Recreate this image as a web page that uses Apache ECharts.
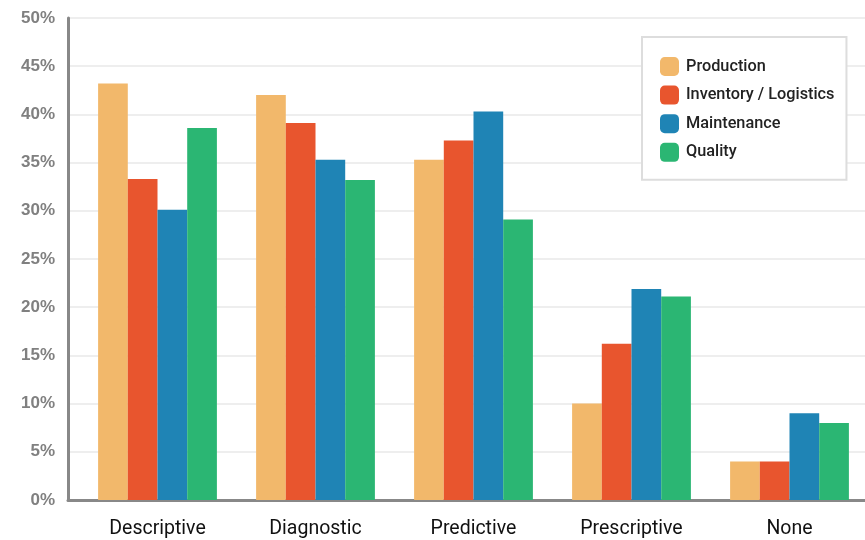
<!DOCTYPE html>
<html>
<head>
<meta charset="utf-8">
<script src="https://cdn.jsdelivr.net/npm/echarts@6/dist/echarts.min.js"></script>
<style>
  html, body { margin: 0; padding: 0; background: #fff; }
  #chart { width: 865px; height: 540px; }
</style>
</head>
<body>
<div id="chart"></div>
<script>
const categories = ['Descriptive', 'Diagnostic', 'Predictive', 'Prescriptive', 'None']
const production = [43.2, 42.0, 35.3, 10.0, 4.0]
const inventory = [33.3, 39.1, 37.3, 16.2, 4.0]
const maintenance = [30.1, 35.3, 40.3, 21.9, 9.0]
const quality = [38.6, 33.2, 29.1, 21.1, 8.0]

const seriesDefs = [
  { name: 'Production', data: production, color: '#F2B86B' },
  { name: 'Inventory / Logistics', data: inventory, color: '#E8552E' },
  { name: 'Maintenance', data: maintenance, color: '#1F84B5' },
  { name: 'Quality', data: quality, color: '#2BB673' }
]

const chart = echarts.init(document.getElementById('chart'))
chart.setOption({
  animation: false,
  backgroundColor: '#fff',
  textStyle: { fontFamily: 'Roboto' },
  legend: {
    orient: 'vertical',
    left: 642,
    top: 37,
    padding: [20, 12, 18, 18],
    itemWidth: 19,
    itemHeight: 19,
    itemGap: 9.6,
    borderColor: '#ddd',
    borderWidth: 2,
    backgroundColor: '#fff',
    textStyle: { fontSize: 16.3, color: '#222', fontWeight: 500, padding: [0, 0, 0, 2] },
    data: seriesDefs.map(s => ({ name: s.name, icon: 'roundRect' }))
  },
  grid: [
    // axis frame and gridlines
    { left: 68, right: 0, top: 18, bottom: 40 },
    // bars: category centres sit on the grid edges (boundaryGap false)
    { left: 157.5, right: 75.5, top: 18, bottom: 40 }
  ],
  xAxis: [
    {
      gridIndex: 0,
      type: 'value',
      min: 0,
      max: 1,
      axisLine: { show: true, lineStyle: { color: '#888', width: 3 } },
      axisTick: { show: false },
      axisLabel: { show: false },
      splitLine: { show: false }
    },
    {
      gridIndex: 1,
      type: 'category',
      boundaryGap: false,
      data: categories,
      axisLine: { show: false },
      axisTick: { show: false },
      axisLabel: { fontSize: 19.5, color: '#111', margin: 19 }
    }
  ],
  yAxis: [
    {
      gridIndex: 0,
      type: 'value',
      min: 0,
      max: 50,
      interval: 5,
      axisLine: { show: true, lineStyle: { color: '#888', width: 3 } },
      axisTick: { show: false },
      axisLabel: {
        formatter: '{value}%',
        fontSize: 17,
        fontWeight: 'bold',
        color: '#808080',
        margin: 13,
        fontFamily: 'Liberation Sans'
      },
      splitLine: { lineStyle: { color: '#eee', width: 2 } }
    },
    {
      gridIndex: 1,
      type: 'value',
      min: 0,
      max: 50,
      show: false
    }
  ],
  series: seriesDefs.map(s => ({
    name: s.name,
    type: 'bar',
    xAxisIndex: 1,
    yAxisIndex: 1,
    data: s.data,
    clip: false,
    barWidth: 29.7,
    barGap: '0%',
    itemStyle: { color: s.color }
  }))
})
</script>
</body>
</html>
